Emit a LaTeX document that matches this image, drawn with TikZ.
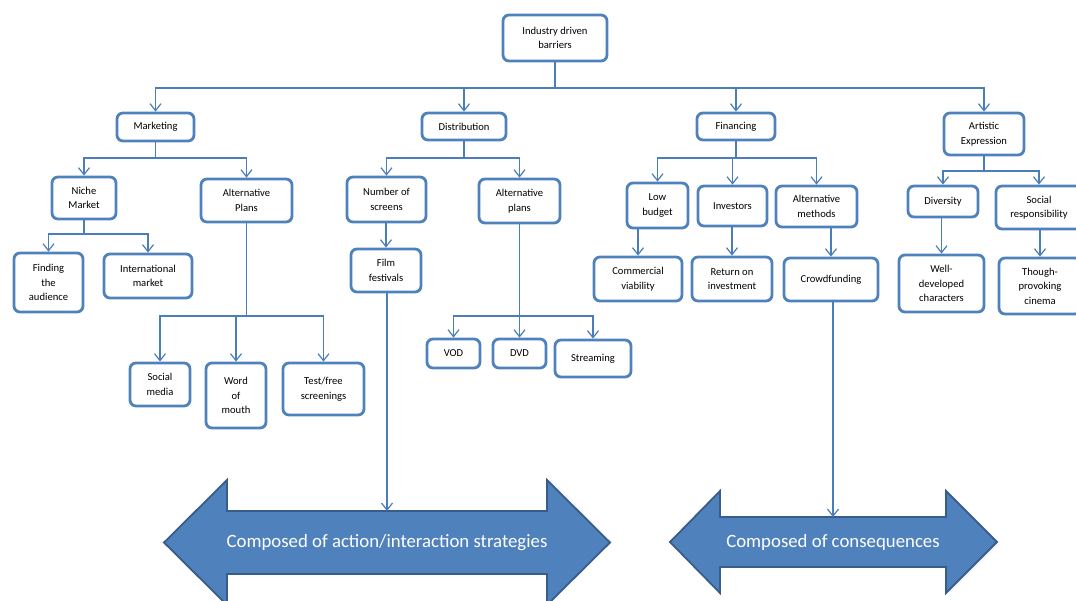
\documentclass[tikz,border=0pt]{standalone}
\usepackage{fontspec}
\setmainfont{Carlito}
\usetikzlibrary{arrows.meta}
\definecolor{boxblue}{HTML}{4F81BD}
\definecolor{linkblue}{HTML}{4A7EBB}
\definecolor{arrowedge}{HTML}{385D8A}

\begin{document}
\begin{tikzpicture}[x=1pt, y=-1pt,
		barrier/.style={draw=boxblue, line width=2.8pt, rounded corners=6pt, fill=white, align=center, inner sep=1pt, font=\fontsize{10.6}{14.5}\selectfont},
		link/.style={draw=linkblue, line width=1.2pt, -{Straight Barb[length=7pt,width=11pt,line width=1.2pt]}},
		bigarrow/.style={fill=boxblue, draw=arrowedge, line width=1.8pt, line join=miter},
		bigtext/.style={text=white, font=\fontsize{18.8}{22}\selectfont, inner sep=0pt}]
		\useasboundingbox (0,0) rectangle (1076,600);
		% the two big arrows
		\draw[bigarrow] (164,542.5) -- (227,480) -- (227,511) -- (547,511) -- (547,480) -- (610,542.5) -- (547,605) -- (547,574) -- (227,574) -- (227,605) -- cycle;
		\node[bigtext] (strat) at (387,542.5) {Composed of action/interaction strategies};
		\draw[bigarrow] (670,542) -- (720,491) -- (720,517) -- (946,517) -- (946,491) -- (997,542) -- (946,593) -- (946,567) -- (720,567) -- (720,593) -- cycle;
		\node[bigtext] (cons) at (833,542) {Composed of consequences};
		\coordinate (strattop) at (387,511);
		\coordinate (constop) at (833,517);
		% boxes
		\foreach \name/\x/\y/\w/\h/\txt in {%
			ind/555/38/104/46/{Industry driven\\barriers},
			mkt/155.5/127/77/28/{Marketing},
			dist/464/126.5/84/27/{Distribution},
			fin/736/126.5/78/27/{Financing},
			art/984/134/80/42/{Artistic\\Expression},
			niche/84/198/64/42/{Niche\\Market},
			altp/246.5/200.5/91/43/{Alternative\\Plans},
			nos/386.5/199.5/79/45/{Number of\\screens},
			altd/519.5/201/81/44/{Alternative\\plans},
			low/657.5/205.5/61/45/{Low\\budget},
			inv/732.5/206/69/40/{Investors},
			altm/816.5/206.5/81/41/{Alternative\\methods},
			div/943/201.5/70/31/{Diversity},
			soc/1039/207.5/86/43/{Social\\responsibility},
			find/48.5/282.5/69/59/{Finding\\the\\audience},
			intl/148/276/88/44/{International\\market},
			film/386/270.5/70/43/{Film\\festivals},
			comm/638/279/88/44/{Commercial\\viability},
			ret/732/279/80/44/{Return on\\investment},
			crowd/831/279.5/94/43/{Crowdfunding},
			well/941.5/283.5/85/57/{Well-\\developed\\characters},
			though/1040/286/82/56/{Though-\\provoking\\cinema},
			socm/160/384.5/60/43/{Social\\media},
			word/236/395.5/60/65/{Word\\of\\mouth},
			test/323.5/389/81/52/{Test/free\\screenings},
			vod/453.5/353.5/53/29/{VOD},
			dvd/519.5/353.5/53/29/{DVD},
			stream/593/358.5/76/37/{Streaming}}%
		{
			\node[barrier, minimum width=\w, minimum height=\h] (\name) at (\x,\y) {\txt};
		};
		% branching links
		\foreach \parent/\child/\ybar in {%
			ind/mkt/88, ind/dist/88, ind/fin/88, ind/art/88,
			mkt/niche/158, mkt/altp/158, dist/nos/158, dist/altd/158,
			fin/low/158, fin/inv/158, fin/altm/158, art/div/171, art/soc/171,
			niche/find/234, niche/intl/234,
			altp/socm/316, altp/word/316, altp/test/316,
			altd/vod/316, altd/dvd/316, altd/stream/316}%
		{
			\draw[link] (\parent.south) -- (\parent.south |- 0,\ybar) -| (\child.north);
		};
		% straight links
		\foreach \parent/\child in {nos/film, low/comm, inv/ret, altm/crowd, div/well, soc/though}%
		{
			\draw[link] (\child.north |- \parent.south) -- (\child.north);
		};
		\draw[link] (film.south -| strattop) -- (strattop);
		\draw[link] (crowd.south -| constop) -- (constop);
	\end{tikzpicture}
\end{document}
